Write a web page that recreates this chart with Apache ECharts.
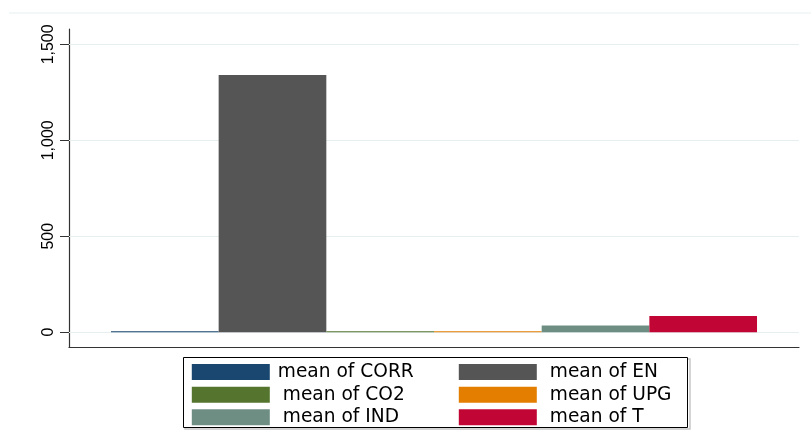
<!DOCTYPE html>
<html><head><meta charset="utf-8">
<script src="https://cdn.jsdelivr.net/npm/echarts@6/dist/echarts.min.js"></script>
<style>html,body{margin:0;padding:0;background:#fff}#c{width:811px;height:443px}</style>
</head><body><div id="c"></div>
<script>
const categories = [''];
const seriesNames = ['mean of CORR', 'mean of EN', 'mean of CO2', 'mean of UPG', 'mean of IND', 'mean of T'];
const seriesValues = [0.4, 1340, 2, 1.5, 35, 84];
const yTicks = [0, 500, 1000, 1500];
const legendLeft = ['mean of CORR', 'mean of CO2', 'mean of IND'];
const legendRight = ['mean of EN', 'mean of UPG', 'mean of T'];
const colors = ['#1a476f', '#555555', '#55752f', '#e37e00', '#6e8e84', '#c10534'];

const chart = echarts.init(document.getElementById('c'), null, {renderer: 'canvas'});
const fmtNum = v => String(v).replace(/\B(?=(\d{3})+(?!\d))/g, ',');
const FS = 18.6;
const legendText = {
  fontFamily: 'DejaVu Sans', fontSize: FS, color: '#000', lineHeight: 16,
  rich: {
    a: {fontFamily: 'DejaVu Sans', fontSize: FS, color: '#000', lineHeight: 16, padding: [0, 0, 0, 3]},
    b: {fontFamily: 'DejaVu Sans', fontSize: FS, color: '#000', lineHeight: 16, padding: [0, 0, 0, 8]}
  }
};
const legendBase = {
  orient: 'vertical', top: 362.6, padding: 0, itemWidth: 78, itemHeight: 16, itemGap: 3.6,
  icon: 'rect', selectedMode: false, textStyle: legendText,
  formatter: n => (n === 'mean of CORR' ? '{a|' : '{b|') + n + '}'
};

const series = seriesNames.map((name, i) => {
  const s = {
    name, type: 'bar', data: [seriesValues[i]], z: 2,
    itemStyle: {color: colors[i]}, barMinHeight: 1, silent: true
  };
  if (i === 0) {
    s.markLine = {
      silent: true, symbol: 'none', z: 1, animation: false,
      label: {show: false},
      lineStyle: {color: '#e6eeef', type: 'solid', width: 1.2},
      data: yTicks.map(v => ({yAxis: v}))
    };
  }
  return s;
});

chart.setOption({
  animation: false,
  backgroundColor: '#fff',
  color: colors,
  grid: {left: 69, right: 12, top: 29, bottom: 95.5},
  xAxis: {
    type: 'category', data: categories, boundaryGap: true,
    axisLine: {show: true, onZero: false, lineStyle: {color: '#333', width: 1.2}},
    axisTick: {show: false}, axisLabel: {show: false}, splitLine: {show: false}
  },
  yAxis: {
    type: 'value', min: -80, max: 1580,
    axisLine: {show: true, onZero: false, lineStyle: {color: '#333', width: 1.2}},
    axisTick: {show: true, customValues: yTicks, length: 9, lineStyle: {color: '#333', width: 1}},
    axisLabel: {
      customValues: yTicks, rotate: 90, margin: 12, formatter: v => fmtNum(v),
      fontFamily: 'Liberation Sans', fontSize: 16, color: '#000'
    },
    splitLine: {show: false}
  },
  legend: [
    Object.assign({}, legendBase, {left: 191.8, data: legendLeft}),
    Object.assign({}, legendBase, {left: 458.8, data: legendRight})
  ],
  series: series.map(s => Object.assign(s, {barGap: '0%', barCategoryGap: '11.5%'})),
  graphic: [
    {type: 'line', shape: {x1: 9, y1: 13, x2: 811, y2: 13}, style: {stroke: '#e8eff0', lineWidth: 1.2}, silent: true},
    {type: 'rect', shape: {x: 185, y: 359, width: 505, height: 70}, style: {fill: 'none', stroke: '#c8c8c8', lineWidth: 1.5}, silent: true, z: 0},
    {type: 'rect', shape: {x: 183.5, y: 357.5, width: 504, height: 70}, style: {fill: '#fff', stroke: '#000', lineWidth: 1}, silent: true, z: 0}
  ]
});
</script></body></html>
